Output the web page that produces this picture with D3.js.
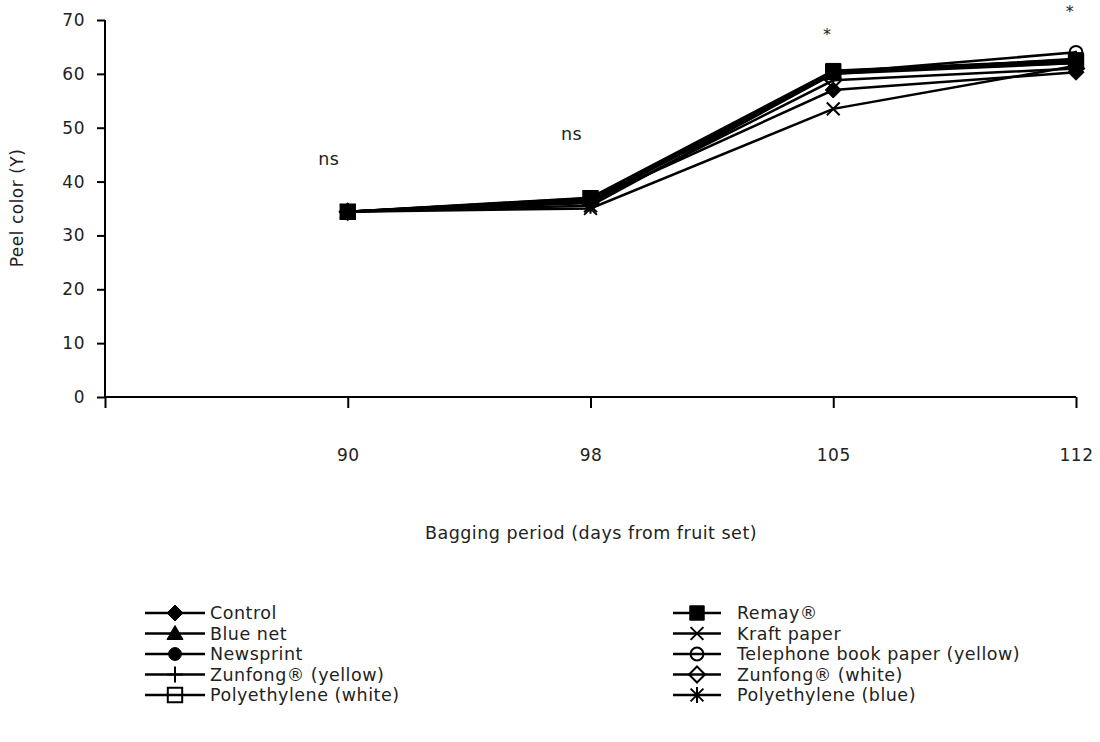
<!DOCTYPE html>
<html><head><meta charset="utf-8">
<script src="https://cdn.jsdelivr.net/npm/d3@7"></script>
<style>body{margin:0;background:#fff}svg{display:block}text{font-family:"DejaVu Sans",sans-serif;fill:#222;letter-spacing:0.5px}</style>
</head><body><svg id="c" width="1100" height="742"></svg>
<script>
const days = ["90","98","105","112"];
const seriesNames = ["Control","Remay®","Blue net","Kraft paper","Newsprint","Telephone book paper (yellow)","Zunfong® (yellow)","Zunfong® (white)","Polyethylene (white)","Polyethylene (blue)"];
const markers = ["diamondFilled","squareFilled","triangleFilled","x","circleFilled","circleOpen","plus","diamondOpen","squareOpen","asterisk"];
const vControl   = [34.4, 36.5, 57.0, 60.3];
const vRemay     = [34.4, 37.0, 60.6, 62.6];
const vBlueNet   = [34.4, 36.8, 60.3, 62.0];
const vKraft     = [34.4, 35.0, 53.5, 61.5];
const vNewsprint = [34.4, 36.6, 60.5, 62.5];
const vPhone     = [34.4, 36.5, 60.2, 64.0];
const vZunY      = [34.4, 36.3, 60.0, 62.8];
const vZunW      = [34.4, 36.0, 58.8, 61.0];
const vPolyW     = [34.4, 36.9, 60.4, 62.3];
const vPolyB     = [34.4, 35.5, 60.0, 62.0];
const seriesValues = [vControl,vRemay,vBlueNet,vKraft,vNewsprint,vPhone,vZunY,vZunW,vPolyW,vPolyB];
const yTicks = [0,10,20,30,40,50,60,70];
const annotations = [{i:0,v:43,t:"ns"},{i:1,v:47.8,t:"ns"},{i:2,v:66.2,t:"*"},{i:3,v:70.6,t:"*"}];

const svg = d3.select("#c");
const x = d3.scaleLinear().domain([-1,3]).range([105,1076]);
const y = d3.scaleLinear().domain([0,70]).range([397,20]);

function markerPath(type, s){
  const h=s;
  switch(type){
    case "diamondFilled": case "diamondOpen": return `M0,${-h}L${h},0L0,${h}L${-h},0Z`;
    case "squareFilled": case "squareOpen": return `M${-h*0.9},${-h*0.9}H${h*0.9}V${h*0.9}H${-h*0.9}Z`;
    case "triangleFilled": return `M0,${-h}L${h},${h*0.75}L${-h},${h*0.75}Z`;
    case "circleFilled": case "circleOpen": return `M${h*0.8},0A${h*0.8},${h*0.8} 0 1,1 ${-h*0.8},0A${h*0.8},${h*0.8} 0 1,1 ${h*0.8},0Z`;
    case "plus": return `M0,${-h}V${h}M${-h},0H${h}`;
    case "x": return `M${-h*0.8},${-h*0.8}L${h*0.8},${h*0.8}M${-h*0.8},${h*0.8}L${h*0.8},${-h*0.8}`;
    case "asterisk": return `M${-h*0.8},${-h*0.8}L${h*0.8},${h*0.8}M${-h*0.8},${h*0.8}L${h*0.8},${-h*0.8}M0,${-h}V${h}`;
  }
}
function markerStyle(sel, type){
  const filled = type.endsWith("Filled");
  sel.attr("fill", filled ? "#000" : "none").attr("stroke","#000")
     .attr("stroke-width", filled ? 1 : 2);
}

// axes
const yAxis = d3.axisLeft(y).tickValues(yTicks).tickSize(8).tickPadding(12);
const gy = svg.append("g").attr("transform","translate(105,0)").call(yAxis);
const xAxis = d3.axisBottom(x).tickValues([-1,0,1,2,3]).tickSize(11).tickPadding(41)
  .tickFormat(i => i>=0 ? days[i] : "");
const gx = svg.append("g").attr("transform","translate(0,397)").call(xAxis);
[gx,gy].forEach(g=>{
  g.select(".domain").attr("stroke","#000").attr("stroke-width",2);
  g.selectAll(".tick line").attr("stroke","#000").attr("stroke-width",2);
  g.selectAll(".tick text").style("font-size","17px").style("font-family","DejaVu Sans").attr("fill","#222");
});
gx.select(".domain").attr("d","M105,0H1076");
gy.select(".domain").attr("d","M0,20V397");

svg.append("text").attr("transform","translate(23,208) rotate(-90)").attr("text-anchor","middle")
  .style("font-size","17px").text("Peel color (Y)");
svg.append("text").attr("x",591).attr("y",539).attr("text-anchor","middle")
  .style("font-size","17.5px").text("Bagging period (days from fruit set)");

svg.selectAll(".ann").data(annotations).enter().append("text")
  .attr("x",d=>x(d.i)-19+ (d.t==="*"?13:0)).attr("y",d=>y(d.v))
  .attr("text-anchor","middle").style("font-size",d=>d.t==="*"?"16px":"17.5px").text(d=>d.t);

// series
const line = d3.line().x((d,i)=>x(i)).y(d=>y(d));
seriesValues.forEach((vals,k)=>{
  const g = svg.append("g");
  g.append("path").attr("d",line(vals)).attr("fill","none").attr("stroke","#000").attr("stroke-width",2.5);
  g.selectAll("path.m").data(vals).enter().append("path").attr("class","m")
    .attr("transform",(d,i)=>`translate(${x(i)},${y(d)})`)
    .attr("d",markerPath(markers[k],8)).call(markerStyle, markers[k]);
});

// legend
const legCols = [{x0:145,x1:205,mx:175,tx:210},{x0:673,x1:721,mx:697,tx:737}];
const legRow0 = 613, legStep = 20.5;
seriesNames.forEach((name,k)=>{
  const c = legCols[k%2], r = Math.floor(k/2);
  const yy = legRow0 + r*legStep;
  const g = svg.append("g");
  g.append("line").attr("x1",c.x0).attr("x2",c.x1).attr("y1",yy).attr("y2",yy).attr("stroke","#000").attr("stroke-width",2.5);
  g.append("path").attr("transform",`translate(${c.mx},${yy})`).attr("d",markerPath(markers[k],8)).call(markerStyle,markers[k]);
  g.append("text").attr("x",c.tx).attr("y",yy).attr("dy","0.35em").style("font-size","17.5px").text(name);
});
</script></body></html>
